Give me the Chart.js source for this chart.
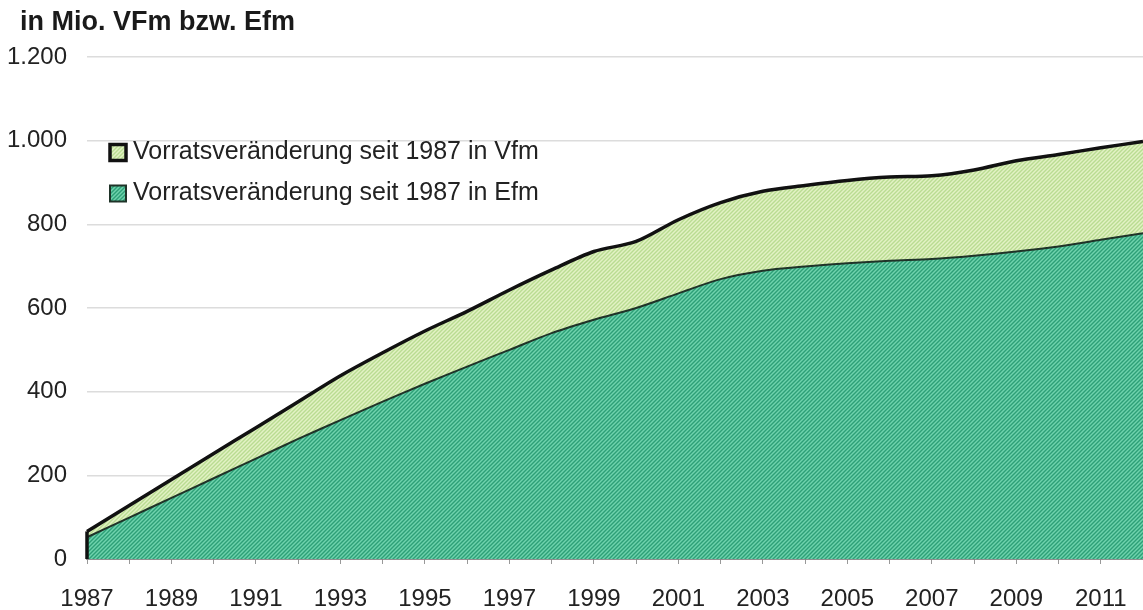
<!DOCTYPE html>
<html>
<head>
<meta charset="utf-8">
<script src="https://cdn.jsdelivr.net/npm/chart.js@4.4.1/dist/chart.umd.min.js"></script>
<style>
  html, body { margin: 0; padding: 0; background: #fff; }
  #wrap { position: relative; width: 1143px; height: 610px; }
</style>
</head>
<body>
<div id="wrap"><canvas id="vorrat"></canvas></div>
<script>
// Jahre (x-Achse)
const jahre = ['1987','1988','1989','1990','1991','1992','1993','1994','1995','1996','1997','1998','1999',
               '2000','2001','2002','2003','2004','2005','2006','2007','2008','2009','2010','2011','2012'];

// Vorratsveränderung seit 1987 (Mio.)
const vorratVfm = [66,128,190,252,314,376,438,493,545,592,643,691,735,759,811,852,879,893,905,913,916,930,952,967,983,998];
const vorratEfm = [52,99,146,193,240,287,332,376,419,460,500,540,572,600,635,669,689,699,707,713,717,725,735,747,763,779];

const schrift = '"Liberation Sans", Arial, sans-serif';

// schraffierte Füllung wie im Original
function schraffur(grund, strich) {
  const s = 4;
  const c = document.createElement('canvas');
  c.width = s; c.height = s;
  const g = c.getContext('2d');
  g.fillStyle = grund;
  g.fillRect(0, 0, s, s);
  g.strokeStyle = strich;
  g.lineWidth = 1.4;
  g.beginPath();
  g.moveTo(-1, 1); g.lineTo(1, -1);
  g.moveTo(0, s); g.lineTo(s, 0);
  g.moveTo(s - 1, s + 1); g.lineTo(s + 1, s - 1);
  g.stroke();
  return g.createPattern(c, 'repeat');
}

const fuellVfm = schraffur('#e2f2c4', '#b9dc92');
const fuellEfm = schraffur('#6fd3ad', '#2d9f77');

// Titel etwas eingerückt, Legende innerhalb der Zeichenfläche
const legendeInnen = {
  id: 'legendeInnen',
  afterLayout(chart) {
    if (chart.titleBlock) chart.titleBlock.left = 20;
  },
  afterDraw(chart) {
    const { ctx, chartArea } = chart;
    ctx.save();
    ctx.font = '25px ' + schrift;
    ctx.textBaseline = 'middle';
    chart.data.datasets.forEach((ds, i) => {
      const bx = chartArea.left + 23;
      const by = chartArea.top + 87.5 + i * 41;
      ctx.fillStyle = ds.backgroundColor;
      ctx.fillRect(bx, by, 16, 16);
      ctx.lineWidth = ds.borderWidth;
      ctx.strokeStyle = ds.borderColor;
      ctx.strokeRect(bx, by, 16, 16);
      ctx.fillStyle = '#222';
      ctx.fillText(ds.label, bx + 23, by + 7.5);
    });
    ctx.restore();
  }
};

// linke Kante der Fläche (1987)
const linkeKante = {
  id: 'linkeKante',
  afterDatasetsDraw(chart) {
    const { ctx, scales } = chart;
    const x = scales.x.getPixelForValue(0);
    ctx.save();
    ctx.strokeStyle = '#111';
    ctx.lineWidth = 3.5;
    ctx.beginPath();
    ctx.moveTo(x, scales.y.getPixelForValue(0));
    ctx.lineTo(x, scales.y.getPixelForValue(vorratVfm[0]));
    ctx.stroke();
    ctx.restore();
  }
};

function tausender(v) {
  return String(v).replace(/(\d)(\d{3})$/, '$1.$2');
}

new Chart(document.getElementById('vorrat'), {
  type: 'line',
  data: {
    labels: jahre,
    datasets: [
      {
        label: 'Vorratsveränderung seit 1987 in Vfm',
        data: vorratVfm,
        backgroundColor: fuellVfm,
        borderColor: '#111',
        borderWidth: 3.5,
        fill: 'origin',
        pointRadius: 0,
        tension: 0.3,
        order: 2
      },
      {
        label: 'Vorratsveränderung seit 1987 in Efm',
        data: vorratEfm,
        backgroundColor: fuellEfm,
        borderColor: '#1f3328',
        borderWidth: 2,
        fill: 'origin',
        pointRadius: 0,
        tension: 0.3,
        order: 1
      }
    ]
  },
  options: {
    responsive: true,
    maintainAspectRatio: false,
    animation: false,
    layout: { padding: { left: 8, right: 0, top: 0, bottom: 0 } },
    scales: {
      x: {
        type: 'category',
        z: 1,
        grid: {
          display: true,
          drawOnChartArea: false,
          drawTicks: true,
          tickLength: 5,
          color: '#999'
        },
        border: { display: true, color: '#333', width: 1.5 },
        ticks: {
          autoSkip: false,
          maxRotation: 0,
          minRotation: 0,
          padding: 21,
          color: '#222',
          font: { family: schrift, size: 24 },
          callback: function (v, i) { return i % 2 === 0 ? this.getLabelForValue(v) : ''; }
        },
        afterFit: (s) => { s.height = 51; s.paddingRight = 0; }
      },
      y: {
        min: 0,
        max: 1200,
        grid: { color: '#dcdcdc', lineWidth: 1.5, drawTicks: false },
        border: { display: false },
        ticks: {
          stepSize: 200,
          padding: 20,
          color: '#222',
          font: { family: schrift, size: 24 },
          callback: (v) => tausender(v)
        },
        afterFit: (s) => { s.width = 79; }
      }
    },
    plugins: {
      legend: { display: false },
      tooltip: { enabled: false },
      title: {
        display: true,
        text: 'in Mio. VFm bzw. Efm',
        align: 'start',
        color: '#1a1a1a',
        font: { family: schrift, size: 27, weight: 'bold' },
        padding: { top: 6.7, bottom: 17.9 }
      }
    }
  },
  plugins: [linkeKante, legendeInnen]
});
</script>
</body>
</html>
